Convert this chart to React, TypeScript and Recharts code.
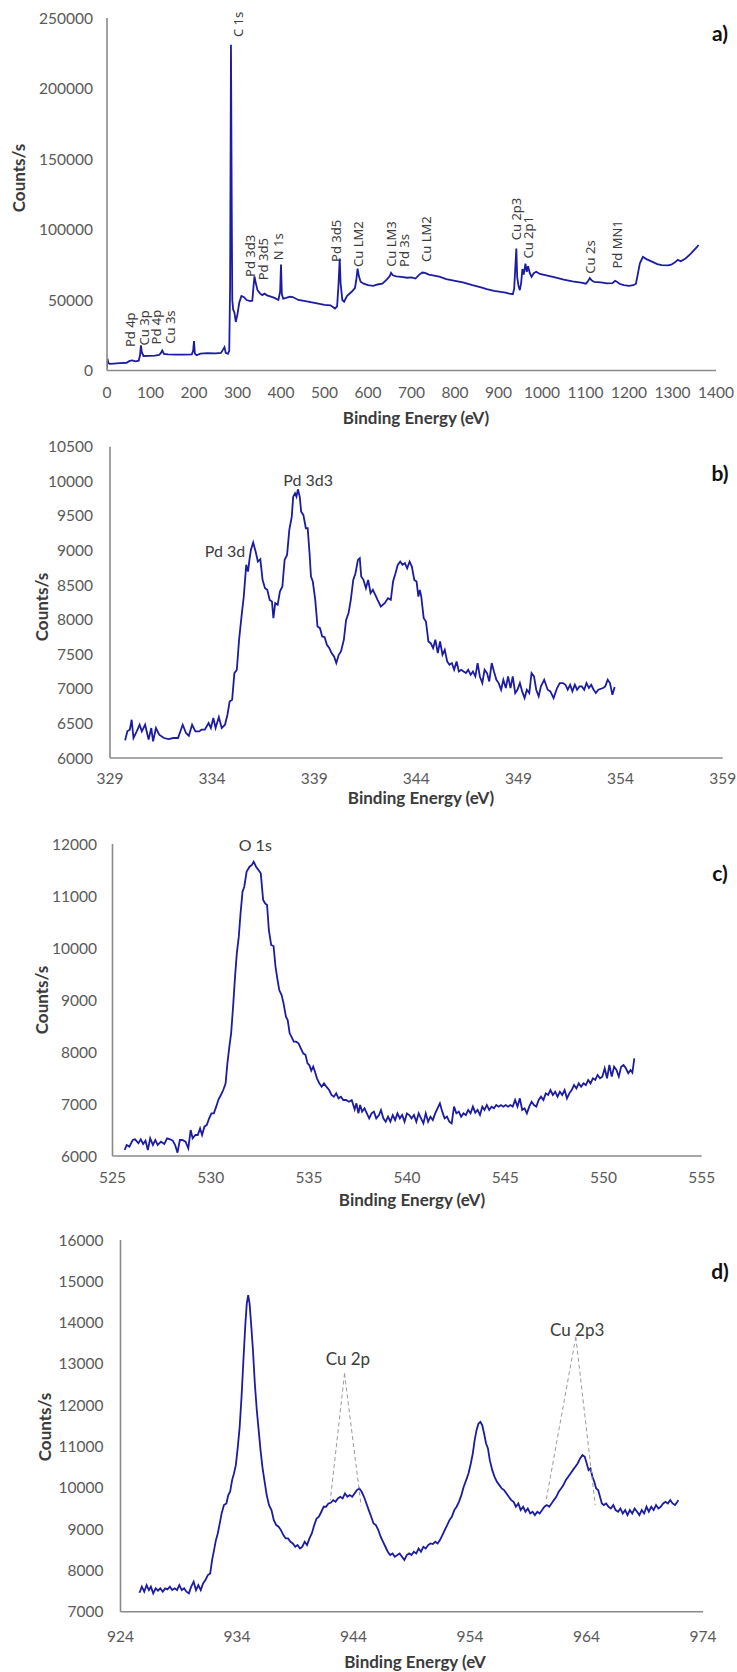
import React from "react"
import {
  LineChart,
  Line,
  XAxis,
  YAxis,
  ReferenceDot,
  ReferenceLine,
} from "recharts"

// ---- a) survey spectrum ----
const surveyEnergy = [
  0, 1, 3, 6, 15, 30, 45, 52, 58, 66, 73, 76, 78, 80, 84, 95, 110, 120, 124, 127, 131, 140, 160, 180, 195,
  198, 200, 202, 206, 215, 230, 250, 262, 267, 270, 273, 278, 281, 283, 285, 287, 288, 290, 293, 296, 300,
  304, 309, 315, 321, 329, 334, 337, 339, 342, 346, 352, 357, 362, 368, 375, 385, 394, 398, 400, 402, 405,
  412, 420, 427, 440, 459, 480, 500, 514, 524, 529, 532, 535, 537, 541, 545, 552, 563, 570, 573, 576, 579,
  583, 590, 600, 612, 622, 633, 643, 650, 653, 657, 665, 677, 690, 700, 709, 718, 725, 731, 740, 752, 764,
  780, 800, 818, 840, 860, 873, 890, 905, 916, 925, 933, 936, 939, 941, 943, 946, 949, 952, 955, 958, 962,
  965, 968, 972, 976, 981, 987, 995, 1010, 1030, 1050, 1070, 1090, 1101, 1106, 1110, 1114, 1120, 1135,
  1150, 1162, 1168, 1172, 1178, 1188, 1200, 1210, 1216, 1220, 1225, 1232, 1240, 1254, 1265, 1275, 1290,
  1297, 1305, 1312, 1319, 1330, 1341, 1350, 1356, 1360,
]
const surveyCounts = [
  1500, 8300, 5500, 4700, 4900, 5200, 5500, 6800, 7200, 6500, 7000, 11000, 17800, 13000, 10300, 10400, 10600,
  11000, 12500, 14200, 11800, 11400, 11200, 11300, 11400, 14000, 20900, 12000, 10800, 12000, 12300, 12100,
  12500, 15000, 16600, 12500, 11800, 14000, 60000, 231000, 100000, 50000, 43300, 41000, 34400, 40000, 48000,
  52900, 52000, 50000, 49200, 49500, 60000, 66800, 62000, 57000, 54500, 53500, 54500, 53300, 52600, 51500,
  50000, 56000, 75100, 54000, 51000, 51500, 52300, 52100, 50000, 49000, 47800, 46500, 46200, 44000, 45500,
  60000, 79400, 62000, 50000, 48800, 53000, 56000, 58500, 64000, 72300, 67000, 63000, 61600, 60500, 60000,
  61000, 61600, 64500, 67000, 69200, 67500, 66800, 66400, 65800, 66000, 65200, 68000, 69500, 69200, 68000,
  67300, 66600, 64800, 63600, 62500, 60500, 59000, 57700, 56500, 55800, 55300, 54600, 54100, 58000, 75000,
  86500, 66000, 60000, 57000, 62000, 72000, 68000, 75800, 70000, 74000, 69000, 66400, 69000, 70000, 68500,
  67500, 66000, 64500, 63200, 62300, 61600, 63500, 65600, 64000, 62800, 62500, 61800, 62000, 63600, 63000,
  61500, 60600, 60000, 60500, 61500, 68000, 76000, 80600, 79000, 77000, 75500, 74700, 74500, 75000, 76500,
  78500, 77500, 79500, 82500, 85500, 87500, 89000,
]
const surveyPeakNames = [
  "Pd 4p", "Cu 3p", "Pd 4p", "Cu 3s", "C 1s", "Pd 3d3", "Pd 3d5", "N 1s", "Pd 3d5", "Cu LM2",
  "Cu LM3", "Pd 3s", "Cu LM2", "Cu 2p3", "Cu 2p1", "Cu 2s", "Pd MN1",
]
const surveyPeakEnergy = [54, 84, 113, 144, 301, 329, 359, 394, 527, 576, 653, 683, 734, 941, 968, 1110, 1172]
const surveyPeakBase = [
  16600, 17800, 18500, 19000, 236500, 66400, 64000, 78200, 77000, 73500, 73500, 73500, 77000, 92400, 79400,
  68700, 72300,
]

// ---- b) Pd 3d ----
const pdEnergy = [
  329.74, 329.85, 329.97, 330.06, 330.15, 330.31, 330.45, 330.56, 330.72, 330.89, 331.02, 331.11, 331.25,
  331.41, 331.64, 331.87, 332.1, 332.33, 332.56, 332.72, 332.86, 333.02, 333.18, 333.37, 333.48, 333.64,
  333.83, 333.94, 334.06, 334.17, 334.33, 334.47, 334.63, 334.75, 334.86, 334.98, 335.09, 335.21, 335.32,
  335.44, 335.55, 335.67, 335.76, 335.83, 335.9, 336.01, 336.13, 336.24, 336.36, 336.47, 336.59, 336.7,
  336.82, 336.93, 337.0, 337.09, 337.21, 337.32, 337.44, 337.55, 337.67, 337.78, 337.9, 337.97, 338.06,
  338.13, 338.2, 338.29, 338.36, 338.47, 338.59, 338.68, 338.77, 338.84, 338.93, 339.05, 339.16, 339.28,
  339.39, 339.51, 339.62, 339.74, 339.85, 339.97, 340.08, 340.2, 340.31, 340.45, 340.56, 340.68, 340.79,
  340.91, 341.02, 341.14, 341.23, 341.3, 341.41, 341.53, 341.64, 341.76, 341.87, 341.99, 342.1, 342.26,
  342.45, 342.61, 342.75, 342.86, 342.98, 343.09, 343.21, 343.32, 343.44, 343.55, 343.67, 343.78, 343.9,
  344.01, 344.1, 344.17, 344.24, 344.36, 344.47, 344.59, 344.7, 344.82, 344.93, 345.05, 345.16, 345.28,
  345.39, 345.51, 345.62, 345.74, 345.85, 345.97, 346.08, 346.2, 346.31, 346.43, 346.54, 346.66, 346.77,
  346.89, 347.0, 347.11, 347.23, 347.34, 347.46, 347.57, 347.69, 347.8, 347.92, 348.03, 348.15, 348.26,
  348.38, 348.49, 348.61, 348.72, 348.84, 348.95, 349.07, 349.18, 349.3, 349.41, 349.53, 349.64, 349.76,
  349.87, 349.99, 350.1, 350.26, 350.43, 350.56, 350.72, 350.89, 351.02, 351.18, 351.3, 351.41, 351.53,
  351.64, 351.76, 351.87, 351.99, 352.1, 352.22, 352.33, 352.45, 352.56, 352.68, 352.79, 352.91, 353.14,
  353.25, 353.37, 353.48, 353.6, 353.71,
]
const pdCounts = [
  6255, 6385, 6409, 6553, 6289, 6385, 6481, 6385, 6481, 6265, 6433, 6241, 6433, 6337, 6289, 6274, 6289, 6289,
  6481, 6361, 6322, 6481, 6385, 6385, 6409, 6409, 6505, 6433, 6578, 6433, 6592, 6433, 6481, 6626, 6818, 6842,
  7227, 7275, 7709, 8046, 8334, 8792, 8695, 8873, 9008, 9114, 8984, 8840, 8873, 8575, 8455, 8431, 8286, 8262,
  8021, 8238, 8214, 8406, 8479, 8864, 8936, 9297, 9489, 9778, 9826, 9778, 9884, 9778, 9562, 9513, 9321, 9321,
  8960, 8623, 8551, 8286, 7901, 7877, 7757, 7747, 7636, 7588, 7516, 7468, 7372, 7492, 7540, 7709, 7997, 8094,
  8286, 8575, 8671, 8864, 8888, 8623, 8575, 8455, 8575, 8382, 8431, 8358, 8286, 8190, 8238, 8310, 8286, 8551,
  8671, 8792, 8840, 8792, 8816, 8743, 8840, 8768, 8575, 8551, 8334, 8431, 8334, 8021, 7973, 7685, 7660, 7588,
  7709, 7516, 7685, 7492, 7564, 7396, 7348, 7372, 7275, 7396, 7251, 7275, 7251, 7227, 7275, 7203, 7251, 7179,
  7372, 7179, 7083, 7275, 7227, 7107, 7372, 7251, 7131, 7083, 6987, 7131, 7011, 7179, 7011, 7179, 6939, 6987,
  7083, 6963, 6866, 6987, 6939, 7227, 7179, 6987, 6890, 7035, 7131, 6987, 6963, 6866, 7011, 7083, 7083, 7059,
  6987, 7059, 6963, 7059, 6987, 7035, 7035, 6987, 7083, 7011, 7059, 6987, 6939, 6987, 7011, 7035, 7131, 7083,
  6914, 7025,
]

// ---- c) O 1s ----
const oEnergy = [
  525.62, 525.72, 525.86, 526.03, 526.15, 526.32, 526.44, 526.56, 526.68, 526.8, 526.92, 527.06, 527.18,
  527.3, 527.47, 527.64, 527.78, 527.93, 528.07, 528.19, 528.31, 528.43, 528.55, 528.72, 528.86, 528.98,
  529.08, 529.22, 529.34, 529.46, 529.56, 529.68, 529.8, 529.92, 530.04, 530.16, 530.28, 530.4, 530.52,
  530.64, 530.76, 530.85, 530.95, 531.04, 531.14, 531.24, 531.33, 531.43, 531.52, 531.62, 531.71, 531.83,
  531.98, 532.1, 532.19, 532.31, 532.43, 532.55, 532.67, 532.77, 532.87, 532.96, 533.08, 533.2, 533.3,
  533.39, 533.49, 533.61, 533.71, 533.83, 533.92, 534.02, 534.11, 534.23, 534.35, 534.47, 534.59, 534.71,
  534.83, 534.93, 535.02, 535.12, 535.22, 535.31, 535.41, 535.53, 535.65, 535.77, 535.89, 536.03, 536.15,
  536.27, 536.39, 536.51, 536.63, 536.75, 536.89, 537.04, 537.18, 537.33, 537.42, 537.52, 537.61, 537.71,
  537.83, 537.95, 538.07, 538.19, 538.31, 538.43, 538.57, 538.67, 538.79, 538.91, 539.03, 539.15, 539.27,
  539.39, 539.51, 539.63, 539.75, 539.87, 539.99, 540.11, 540.23, 540.35, 540.47, 540.59, 540.71, 540.83,
  540.95, 541.07, 541.19, 541.31, 541.43, 541.55, 541.67, 541.79, 541.91, 542.03, 542.15, 542.27, 542.39,
  542.51, 542.63, 542.75, 542.87, 542.99, 543.11, 543.23, 543.35, 543.47, 543.59, 543.71, 543.83, 543.94,
  544.06, 544.18, 544.3, 544.42, 544.54, 544.66, 544.78, 544.9, 545.02, 545.14, 545.26, 545.38, 545.5,
  545.62, 545.74, 545.86, 545.98, 546.1, 546.22, 546.34, 546.46, 546.58, 546.7, 546.82, 546.94, 547.06,
  547.18, 547.3, 547.42, 547.54, 547.66, 547.78, 547.9, 548.02, 548.14, 548.26, 548.38, 548.5, 548.62,
  548.74, 548.86, 548.98, 549.1, 549.22, 549.34, 549.46, 549.58, 549.7, 549.82, 549.94, 550.06, 550.18,
  550.3, 550.42, 550.54, 550.66, 550.78, 550.9, 551.02, 551.14, 551.26, 551.38, 551.47, 551.57,
]
const oCounts = [
  6115, 6212, 6180, 6308, 6321, 6244, 6321, 6231, 6295, 6115, 6340, 6212, 6308, 6212, 6276, 6231, 6340, 6321,
  6295, 6212, 6064, 6308, 6308, 6276, 6147, 6500, 6340, 6404, 6404, 6532, 6404, 6564, 6596, 6724, 6820, 6820,
  6949, 7090, 7173, 7269, 7397, 7782, 8103, 8359, 8872, 9449, 9897, 10218, 10667, 11083, 11179, 11468, 11564,
  11596, 11660, 11564, 11500, 11436, 10923, 10859, 10827, 10346, 10058, 10038, 9641, 9417, 9192, 9096, 8936,
  8679, 8615, 8359, 8295, 8199, 8199, 8167, 8071, 7974, 7942, 7782, 7750, 7641, 7718, 7622, 7494, 7397, 7333,
  7397, 7333, 7269, 7173, 7141, 7205, 7109, 7141, 7077, 7077, 7045, 7077, 6897, 7013, 6820, 6981, 6853, 6917,
  6820, 6724, 6820, 6853, 6724, 6788, 6885, 6724, 6660, 6756, 6660, 6788, 6692, 6820, 6724, 6788, 6660, 6820,
  6788, 6724, 6788, 6660, 6820, 6724, 6628, 6820, 6660, 6756, 6692, 6820, 6917, 7013, 6853, 6724, 6756, 6660,
  6628, 6949, 6820, 6853, 6756, 6820, 6788, 6885, 6820, 6949, 6833, 6885, 6788, 6949, 6885, 6981, 6885, 6949,
  6917, 6981, 6949, 6981, 6949, 6981, 6949, 6981, 6949, 7077, 6949, 7109, 6885, 6917, 6820, 6949, 7045, 6981,
  6949, 7077, 7141, 7077, 7205, 7173, 7269, 7173, 7237, 7141, 7237, 7173, 7269, 7109, 7205, 7269, 7365, 7301,
  7397, 7333, 7397, 7365, 7462, 7397, 7494, 7462, 7558, 7494, 7526, 7686, 7494, 7750, 7526, 7718, 7654, 7526,
  7718, 7750, 7686, 7590, 7654, 7603, 7878,
]

// ---- d) Cu 2p ----
const cuEnergy = [
  925.63, 925.83, 926.04, 926.24, 926.44, 926.61, 926.81, 927.02, 927.22, 927.42, 927.63, 927.83, 928.03,
  928.24, 928.44, 928.65, 928.85, 929.05, 929.26, 929.46, 929.66, 929.87, 930.07, 930.28, 930.48, 930.68,
  930.89, 931.09, 931.29, 931.5, 931.7, 931.86, 932.03, 932.19, 932.35, 932.52, 932.68, 932.88, 933.09,
  933.25, 933.41, 933.58, 933.74, 933.9, 934.07, 934.23, 934.39, 934.55, 934.72, 934.84, 934.96, 935.08,
  935.21, 935.37, 935.53, 935.7, 935.86, 936.02, 936.18, 936.35, 936.55, 936.75, 936.96, 937.16, 937.37,
  937.57, 937.77, 937.98, 938.18, 938.38, 938.59, 938.79, 939.0, 939.2, 939.4, 939.61, 939.81, 940.01,
  940.22, 940.42, 940.63, 940.83, 941.03, 941.24, 941.44, 941.64, 941.85, 942.05, 942.26, 942.46, 942.66,
  942.87, 943.07, 943.27, 943.48, 943.68, 943.89, 944.09, 944.29, 944.5, 944.7, 944.9, 945.11, 945.31,
  945.52, 945.72, 945.92, 946.13, 946.33, 946.53, 946.74, 946.94, 947.15, 947.35, 947.55, 947.76, 947.96,
  948.16, 948.37, 948.57, 948.78, 948.98, 949.18, 949.39, 949.59, 949.79, 950.0, 950.2, 950.41, 950.61,
  950.81, 951.02, 951.22, 951.42, 951.63, 951.83, 952.04, 952.24, 952.44, 952.65, 952.85, 953.05, 953.26,
  953.46, 953.67, 953.87, 954.07, 954.24, 954.4, 954.56, 954.73, 954.89, 955.05, 955.21, 955.38, 955.54,
  955.7, 955.91, 956.11, 956.31, 956.52, 956.72, 956.93, 957.13, 957.33, 957.54, 957.74, 957.94, 958.15,
  958.35, 958.56, 958.76, 958.96, 959.17, 959.37, 959.57, 959.78, 959.98, 960.19, 960.39, 960.59, 960.8,
  961.0, 961.2, 961.41, 961.61, 961.82, 962.02, 962.22, 962.43, 962.63, 962.83, 963.04, 963.24, 963.45,
  963.65, 963.85, 964.02, 964.18, 964.34, 964.51, 964.67, 964.83, 965.0, 965.16, 965.32, 965.48, 965.69,
  965.89, 966.09, 966.3, 966.5, 966.71, 966.91, 967.11, 967.32, 967.52, 967.72, 967.93, 968.13, 968.34,
  968.54, 968.74, 968.95, 969.15, 969.35, 969.56, 969.76, 969.97, 970.17, 970.37, 970.58, 970.78, 970.98,
  971.19, 971.39, 971.6, 971.8, 971.88,
]
const cuCounts = [
  7460, 7605, 7484, 7645, 7524, 7605, 7444, 7565, 7508, 7565, 7484, 7565, 7540, 7605, 7524, 7565, 7524, 7645,
  7524, 7565, 7484, 7444, 7605, 7726, 7524, 7645, 7524, 7686, 7766, 7887, 7927, 8250, 8492, 8734, 8895, 9137,
  9379, 9581, 9621, 9823, 9903, 10186, 10347, 10549, 10992, 11476, 12202, 13089, 13976, 14460, 14662, 14460,
  13976, 13331, 12524, 11879, 11395, 10911, 10508, 10186, 9823, 9581, 9460, 9218, 9097, 9057, 8976, 8855, 8774,
  8774, 8694, 8653, 8573, 8613, 8532, 8573, 8694, 8613, 8774, 8895, 9097, 9258, 9299, 9420, 9541, 9541, 9621,
  9637, 9702, 9661, 9742, 9782, 9742, 9863, 9782, 9823, 9782, 9863, 9944, 9984, 9903, 9782, 9621, 9460, 9299,
  9137, 9097, 8976, 8815, 8694, 8573, 8452, 8371, 8411, 8331, 8371, 8411, 8331, 8250, 8371, 8411, 8371, 8452,
  8411, 8532, 8452, 8573, 8532, 8613, 8653, 8637, 8694, 8653, 8734, 8855, 8976, 9097, 9218, 9299, 9460, 9541,
  9661, 9823, 10024, 10186, 10347, 10589, 10831, 11153, 11395, 11557, 11597, 11516, 11315, 11073, 10952, 10670,
  10428, 10266, 10145, 10065, 9984, 9944, 9863, 9782, 9702, 9661, 9541, 9621, 9460, 9541, 9420, 9500, 9379,
  9420, 9339, 9420, 9379, 9460, 9541, 9581, 9541, 9621, 9702, 9782, 9903, 9984, 10065, 10186, 10266, 10347,
  10428, 10508, 10589, 10710, 10791, 10750, 10589, 10428, 10468, 10266, 10145, 9984, 9944, 9782, 9621, 9581,
  9621, 9541, 9500, 9581, 9460, 9420, 9500, 9379, 9460, 9339, 9460, 9379, 9500, 9420, 9339, 9460, 9379, 9541,
  9420, 9541, 9460, 9581, 9500, 9541, 9621, 9661, 9621, 9702, 9621, 9581, 9661, 9702,
]

const surveyTicksX = [0, 100, 200, 300, 400, 500, 600, 700, 800, 900, 1000, 1100, 1200, 1300, 1400]
const surveyTicksY = [0, 50000, 100000, 150000, 200000, 250000]
const pdTicksX = [329, 334, 339, 344, 349, 354, 359]
const pdTicksY = [6000, 6500, 7000, 7500, 8000, 8500, 9000, 9500, 10000, 10500]
const oTicksX = [525, 530, 535, 540, 545, 550, 555]
const oTicksY = [6000, 7000, 8000, 9000, 10000, 11000, 12000]
const cuTicksX = [924, 934, 944, 954, 964, 974]
const cuTicksY = [7000, 8000, 9000, 10000, 11000, 12000, 13000, 14000, 15000, 16000]

const toRows = (e: number[], c: number[]) => e.map((x, i) => ({ e: x, c: c[i] }))

const LINE = "#1b1ba3"
const AXIS = "#8a8a8a"
const TICK = { fill: "#595959", fontSize: 15.5, fontFamily: "Lato" }

// rotated peak name, starting at the dot and reading upwards
const vLabel = (text: string) => (props: any) => {
  const { x, y } = props.viewBox
  return (
    <text
      x={x}
      y={y}
      transform={`rotate(-90 ${x} ${y})`}
      textAnchor="start"
      dominantBaseline="central"
      fontSize={13}
      fontFamily="Noto Sans"
      fill="#3c3c3c"
    >
      {text}
    </text>
  )
}

const hLabel = (text: string, size: number) => (props: any) => {
  const { x, y } = props.viewBox
  return (
    <text
      x={x}
      y={y}
      textAnchor="middle"
      dominantBaseline="central"
      fontSize={size}
      fontFamily="Lato"
      fill="#3c3c3c"
    >
      {text}
    </text>
  )
}

type PanelProps = {
  top: number
  height: number
  rows: { e: number; c: number }[]
  xDomain: [number, number]
  xTicks: number[]
  yDomain: [number, number]
  yTicks: number[]
  marginTop: number
  marginRight: number
  yWidth: number
  xHeight: number
  xTickGap: number
  yTickGap: number
  children?: React.ReactNode
}

function Panel(p: PanelProps) {
  return (
    <div style={{ position: "absolute", left: 0, top: p.top }}>
      <LineChart
        width={737}
        height={p.height}
        data={p.rows}
        margin={{ top: p.marginTop, right: p.marginRight, left: 0, bottom: 0 }}
      >
        <XAxis
          dataKey="e"
          type="number"
          domain={p.xDomain}
          ticks={p.xTicks}
          allowDataOverflow
          height={p.xHeight}
          tickLine={false}
          tickSize={0}
          tickMargin={p.xTickGap}
          axisLine={{ stroke: AXIS, strokeWidth: 1.6 }}
          tick={TICK}
          interval={0}
        />
        <YAxis
          type="number"
          domain={p.yDomain}
          ticks={p.yTicks}
          allowDataOverflow
          width={p.yWidth}
          tickLine={false}
          tickSize={0}
          tickMargin={p.yTickGap}
          axisLine={{ stroke: AXIS, strokeWidth: 1.6 }}
          tick={TICK}
          interval={0}
        />
        <Line
          type="linear"
          dataKey="c"
          stroke={LINE}
          strokeWidth={1.8}
          dot={false}
          isAnimationActive={false}
        />
        {p.children}
      </LineChart>
    </div>
  )
}

function Title({ x, y, text, rotate }: { x: number; y: number; text: string; rotate?: boolean }) {
  return (
    <div
      style={{
        position: "absolute",
        left: x,
        top: y,
        transform: `translate(-50%, -50%)${rotate ? " rotate(-90deg)" : ""}`,
        fontFamily: "Lato",
        fontWeight: 700,
        fontSize: 17,
        lineHeight: "20px",
        color: "#3a3a3a",
        whiteSpace: "nowrap",
      }}
    >
      {text}
    </div>
  )
}

function Tag({ y, text }: { y: number; text: string }) {
  return (
    <div
      style={{
        position: "absolute",
        left: 720,
        top: y,
        transform: "translate(-50%, -50%)",
        fontFamily: "Lato",
        fontWeight: 700,
        fontSize: 21,
        color: "#111",
      }}
    >
      {text}
    </div>
  )
}

const dash = { stroke: "#9a9a9a", strokeWidth: 1, strokeDasharray: "4 3", ifOverflow: "visible" as const }

export default function App() {
  return (
    <div
      style={{ position: "absolute", left: 0, top: 0, width: 737, height: 1672, background: "#fff", overflow: "hidden" }}
    >
      <Panel
        top={0}
        height={435}
        rows={toRows(surveyEnergy, surveyCounts)}
        xDomain={[0, 1400]}
        xTicks={surveyTicksX}
        yDomain={[0, 250000]}
        yTicks={surveyTicksY}
        marginTop={18}
        marginRight={21}
        yWidth={107}
        xHeight={64.5}
        xTickGap={16.6}
        yTickGap={14}
      >
        {surveyPeakNames.map((name, i) => (
          <ReferenceDot
            key={name + i}
            x={surveyPeakEnergy[i]}
            y={surveyPeakBase[i]}
            r={0}
            fill="none"
            stroke="none"
            ifOverflow="visible"
            label={vLabel(name)}
          />
        ))}
      </Panel>

      <Panel
        top={430}
        height={390}
        rows={toRows(pdEnergy, pdCounts)}
        xDomain={[329, 359]}
        xTicks={pdTicksX}
        yDomain={[6000, 10500]}
        yTicks={pdTicksY}
        marginTop={16.7}
        marginRight={14.3}
        yWidth={110}
        xHeight={62}
        xTickGap={15}
        yTickGap={17}
      >
        <ReferenceDot x={334.63} y={9000} r={0} fill="none" stroke="none" ifOverflow="visible" label={hLabel("Pd 3d", 16)} />
        <ReferenceDot x={338.7} y={10019} r={0} fill="none" stroke="none" ifOverflow="visible" label={hLabel("Pd 3d3", 16)} />
      </Panel>

      <Panel
        top={825}
        height={400}
        rows={toRows(oEnergy, oCounts)}
        xDomain={[525, 555]}
        xTicks={oTicksX}
        yDomain={[6000, 12000]}
        yTicks={oTicksY}
        marginTop={19}
        marginRight={35.3}
        yWidth={112.5}
        xHeight={69}
        xTickGap={16}
        yTickGap={15.5}
      >
        <ReferenceDot x={532.27} y={12000} r={0} fill="none" stroke="none" ifOverflow="visible" label={hLabel("O 1s", 16)} />
      </Panel>

      <Panel
        top={1225}
        height={447}
        rows={toRows(cuEnergy, cuCounts)}
        xDomain={[924, 974]}
        xTicks={cuTicksX}
        yDomain={[7000, 16000]}
        yTicks={cuTicksY}
        marginTop={15}
        marginRight={34}
        yWidth={120.5}
        xHeight={60.3}
        xTickGap={19}
        yTickGap={17}
      >
        <ReferenceLine segment={[{ x: 943.23, y: 12766 }, { x: 942.01, y: 9702 }]} {...dash} />
        <ReferenceLine segment={[{ x: 943.23, y: 12766 }, { x: 944.66, y: 9557 }]} {...dash} />
        <ReferenceLine segment={[{ x: 963.08, y: 13654 }, { x: 960.55, y: 9718 }]} {...dash} />
        <ReferenceLine segment={[{ x: 963.08, y: 13654 }, { x: 964.75, y: 9581 }]} {...dash} />
        <ReferenceDot x={943.52} y={13130} r={0} fill="none" stroke="none" ifOverflow="visible" label={hLabel("Cu 2p", 17)} />
        <ReferenceDot x={963.2} y={13831} r={0} fill="none" stroke="none" ifOverflow="visible" label={hLabel("Cu 2p3", 17)} />
      </Panel>

      <Title x={19} y={178} text="Counts/s" rotate />
      <Title x={416} y={418} text="Binding Energy (eV)" />
      <Tag y={32} text="a)" />

      <Title x={42} y={606.7} text="Counts/s" rotate />
      <Title x={421} y={798} text="Binding Energy (eV)" />
      <Tag y={471.7} text="b)" />

      <Title x={42} y={1000} text="Counts/s" rotate />
      <Title x={412} y={1200} text="Binding Energy (eV)" />
      <Tag y={871.5} text="c)" />

      <Title x={45} y={1426.7} text="Counts/s" rotate />
      <Title x={415} y={1661.7} text="Binding Energy (eV" />
      <Tag y={1270} text="d)" />
    </div>
  )
}
